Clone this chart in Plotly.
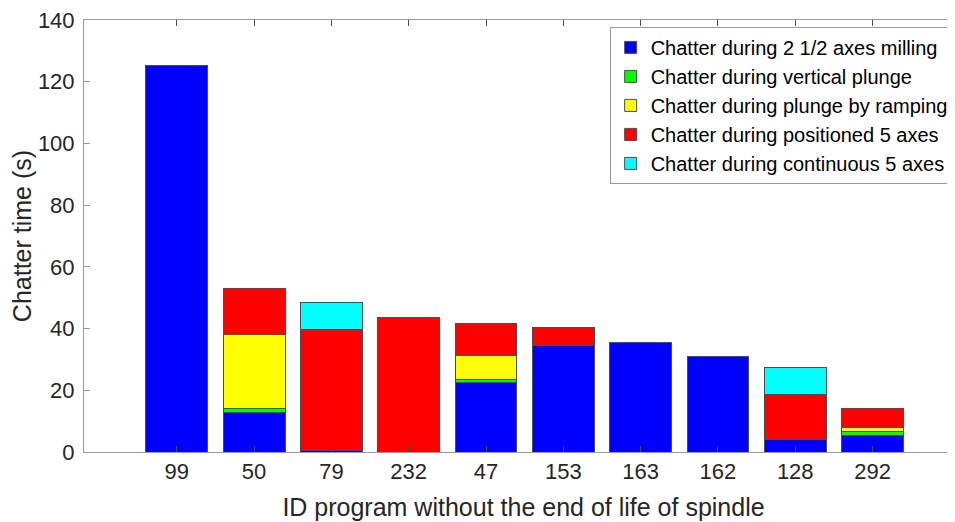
import plotly.graph_objects as go

# programme IDs (x categories)
programs = ["99", "50", "79", "232", "47", "153", "163", "162", "128", "292"]

# chatter time per machining type (s)
milling_2_5 = [125.3, 12.9, 0.5, None, 22.6, 34.4, 35.5, 30.9, 3.9, 5.4]
vertical_plunge = [None, 1.3, None, None, 0.8, None, None, None, None, 1.2]
plunge_ramping = [None, 23.9, None, None, 7.8, None, None, None, None, 1.4]
positioned_5 = [None, 14.8, 39.3, 43.6, 10.4, 6.1, None, None, 14.6, 6.0]
continuous_5 = [None, None, 8.8, None, None, None, None, None, 9.0, None]

series = [
    ("Chatter during 2 1/2 axes milling", milling_2_5, "#0000FF"),
    ("Chatter during vertical plunge", vertical_plunge, "#00FF00"),
    ("Chatter during plunge by ramping", plunge_ramping, "#FFFF00"),
    ("Chatter during positioned 5 axes", positioned_5, "#FF0000"),
    ("Chatter during continuous 5 axes", continuous_5, "#00FFFF"),
]

fig = go.Figure()
for name, vals, col in series:
    fig.add_trace(go.Bar(
        x=programs, y=vals, name=name, width=0.8,
        marker=dict(color=col, line=dict(color="#4d4d4d", width=1)),
    ))

axis_col = "#9a9a9a"
txt_col = "#262626"

# page body has an 8px margin, so the figure is offset by 8px
fig.update_layout(
    width=955, height=522,
    barmode="stack",
    plot_bgcolor="white", paper_bgcolor="white",
    margin=dict(l=76, r=0, t=12, b=78),
    font=dict(family="Liberation Sans, Arial, sans-serif", size=22, color=txt_col),
    showlegend=True,
    legend=dict(
        x=0.598, y=0.984, xanchor="left", yanchor="top",
        traceorder="normal",
        bgcolor="white", bordercolor=axis_col, borderwidth=1,
        font=dict(size=20, color="#000000"),
        itemwidth=30, tracegroupgap=0,
    ),
)

fig.update_xaxes(
    type="category", range=[-1.2, 10.17], automargin=False,
    showline=True, linecolor=axis_col, linewidth=1, mirror="allticks",
    ticks="inside", ticklen=6, tickcolor="#4d4d4d",
    showgrid=False, zeroline=False,
    title=dict(text="ID program without the end of life of spindle",
               font=dict(size=25, color=txt_col), standoff=15),
)
fig.update_yaxes(
    range=[0, 140], tickvals=[0, 20, 40, 60, 80, 100, 120, 140], automargin=False,
    showline=True, linecolor=axis_col, linewidth=1, mirror=False,
    ticks="inside", ticklen=6, tickcolor=axis_col, ticklabelstandoff=4,
    ticklabeloverflow="allow",
    showgrid=False, zeroline=False,
    title=dict(text="Chatter time (s)", font=dict(size=25, color=txt_col), standoff=4),
)

fig.write_html("out.html")
